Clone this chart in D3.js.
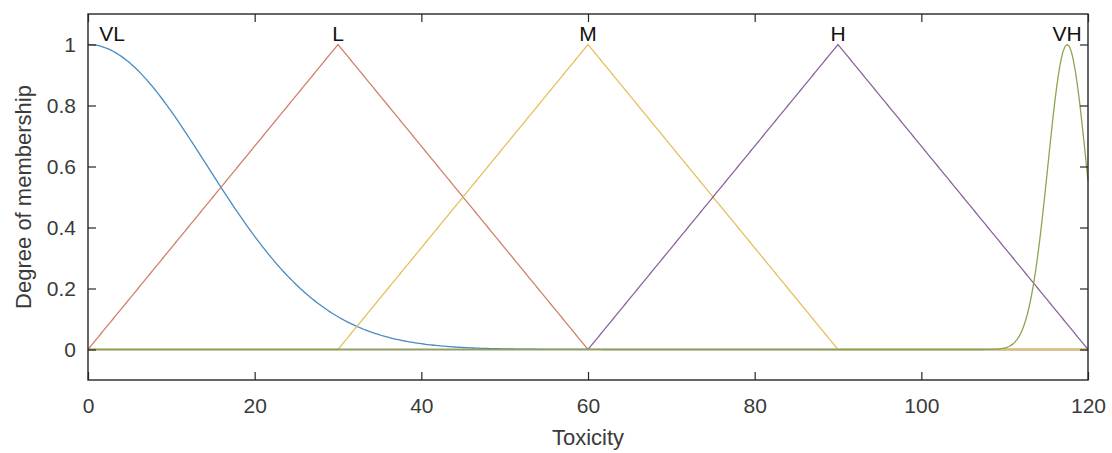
<!DOCTYPE html>
<html>
<head>
<meta charset="utf-8">
<script src="https://cdn.jsdelivr.net/npm/d3@7"></script>
<style>
  html, body { margin: 0; padding: 0; background: #ffffff; }
  svg { display: block; }
  text { font-family: "Liberation Sans", Arial, Helvetica, sans-serif; fill: #262626; }
</style>
</head>
<body>
<svg id="chart" width="1112" height="453"></svg>
<script>
// Membership functions of the "Toxicity" input variable
const mfNames  = ["VL", "L", "M", "H", "VH"];
const mfTypes  = ["gaussmf", "trimf", "trimf", "trimf", "gaussmf"];
// gaussmf: [sigma, center]; trimf: [a, b, c]
const mfParams = [[14.2, 0], [0, 30, 60], [30, 60, 90], [60, 90, 120], [2.3, 117.5]];
const mfColors = ["#4a8cc0", "#cf7f6a", "#e6bf5c", "#8a6399", "#8aa64e"];
const labelX   = [2.9, 30, 60, 90, 117.5];

const xRange   = [0, 120];
const yRange   = [-0.1, 1.1];
const xTicks   = [0, 20, 40, 60, 80, 100, 120];
const yTicks   = [0, 0.2, 0.4, 0.6, 0.8, 1];
const xLabel   = "Toxicity";
const yLabel   = "Degree of membership";
const sampleStep = 0.25;

const margin = { left: 88, right: 24, top: 14, bottom: 73 };
const W = 1112, H = 453;
const svg = d3.select("#chart");

const x = d3.scaleLinear().domain(xRange).range([margin.left, W - margin.right]);
const y = d3.scaleLinear().domain(yRange).range([H - margin.bottom, margin.top]);

function evalMF(type, p, v) {
  if (type === "gaussmf") {
    const [s, c] = p;
    return Math.exp(-((v - c) ** 2) / (2 * s * s));
  }
  const [a, b, c] = p;
  if (v <= a || v >= c) return (v === b) ? 1 : 0;
  return v < b ? (v - a) / (b - a) : (c - v) / (c - b);
}

const xs = d3.range(xRange[0], xRange[1] + sampleStep / 2, sampleStep);
const line = d3.line().x(d => x(d[0])).y(d => y(d[1]));

const curves = svg.append("g").attr("class", "curves");
mfNames.forEach((name, i) => {
  const pts = xs.map(v => [v, evalMF(mfTypes[i], mfParams[i], v)]);
  curves.append("path")
    .datum(pts)
    .attr("fill", "none")
    .attr("stroke", mfColors[i])
    .attr("stroke-width", 1.3)
    .attr("d", line);
});

// MF name labels above each peak
svg.append("g").selectAll("text")
  .data(mfNames)
  .join("text")
  .attr("x", (d, i) => x(labelX[i]))
  .attr("y", y(1) - 4)
  .attr("text-anchor", "middle")
  .attr("font-size", 21)
  .style("fill", "#111")
  .text(d => d);

// Axes with inward ticks on all four sides
const tickLen = 8;
const axisColor = "#262626";

const xAxis = d3.axisBottom(x).tickValues(xTicks).tickSize(-tickLen).tickPadding(18).tickFormat(d3.format("d"));
const xAxisTop = d3.axisTop(x).tickValues(xTicks).tickSize(-tickLen).tickFormat("");
const yAxis = d3.axisLeft(y).tickValues(yTicks).tickSize(-tickLen).tickPadding(12).tickFormat(d => d === 0 || d === 1 ? String(d) : d.toFixed(1));
const yAxisRight = d3.axisRight(y).tickValues(yTicks).tickSize(-tickLen).tickFormat("");

function styleAxis(g) {
  g.select(".domain").remove();
  g.selectAll(".tick line").attr("stroke", axisColor).attr("stroke-width", 1.2);
  g.selectAll(".tick text").attr("font-size", 21).style("fill", "#3a3a3a")
    .attr("font-family", "\"Liberation Sans\", Arial, sans-serif");
}

svg.append("g").attr("transform", `translate(0,${y(yRange[0])})`).call(xAxis).call(styleAxis);
svg.append("g").attr("transform", `translate(0,${y(yRange[1])})`).call(xAxisTop).call(styleAxis);
svg.append("g").attr("transform", `translate(${x(xRange[0])},0)`).call(yAxis).call(styleAxis);
svg.append("g").attr("transform", `translate(${x(xRange[1])},0)`).call(yAxisRight).call(styleAxis);

// Box around the plot area
svg.append("rect")
  .attr("x", x(xRange[0]))
  .attr("y", y(yRange[1]))
  .attr("width", x(xRange[1]) - x(xRange[0]))
  .attr("height", y(yRange[0]) - y(yRange[1]))
  .attr("fill", "none")
  .attr("stroke", axisColor)
  .attr("stroke-width", 1.4);

// Axis titles
svg.append("text")
  .attr("x", (x(xRange[0]) + x(xRange[1])) / 2)
  .attr("y", 445)
  .attr("text-anchor", "middle")
  .attr("font-size", 22)
  .style("fill", "#3a3a3a")
  .text(xLabel);

svg.append("text")
  .attr("transform", `translate(31,${(y(yRange[0]) + y(yRange[1])) / 2}) rotate(-90)`)
  .attr("text-anchor", "middle")
  .attr("font-size", 22)
  .style("fill", "#3a3a3a")
  .text(yLabel);
</script>
</body>
</html>
